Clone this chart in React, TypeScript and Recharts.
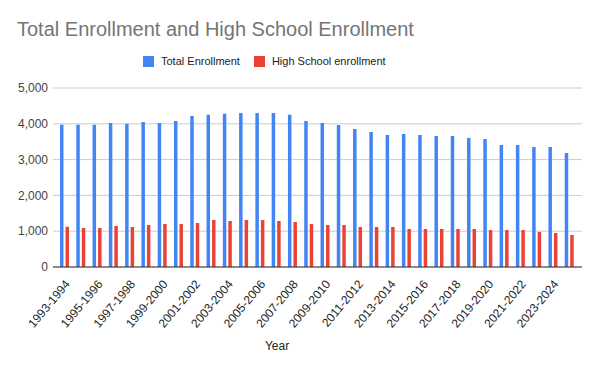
import React from 'react';
import { BarChart, Bar, XAxis, YAxis, CartesianGrid } from 'recharts';

const years = [
  '1993-1994','1994-1995','1995-1996','1996-1997','1997-1998','1998-1999','1999-2000','2000-2001',
  '2001-2002','2002-2003','2003-2004','2004-2005','2005-2006','2006-2007','2007-2008','2008-2009',
  '2009-2010','2010-2011','2011-2012','2012-2013','2013-2014','2014-2015','2015-2016','2016-2017',
  '2017-2018','2018-2019','2019-2020','2020-2021','2021-2022','2022-2023','2023-2024','2024-2025',
];
const totalEnrollment = [
  3975, 3975, 3975, 4020, 4000, 4050, 4020, 4078, 4218, 4255, 4283, 4302, 4300, 4300, 4255, 4078,
  4022, 3966, 3855, 3771, 3687, 3715, 3687, 3659, 3659, 3603, 3575, 3408, 3408, 3352, 3352, 3184,
];
const highSchoolEnrollment = [
  1125, 1089, 1089, 1145, 1117, 1173, 1201, 1201, 1229, 1313, 1285, 1313, 1313, 1285, 1257, 1201,
  1173, 1173, 1117, 1117, 1117, 1061, 1061, 1061, 1061, 1061, 1034, 1034, 1034, 978, 950, 894,
];
const yTicks = [0, 1000, 2000, 3000, 4000, 5000];
const seriesNames = ['Total Enrollment', 'High School enrollment'];
const seriesColors = ['#4285F4', '#EA4335'];

const data = years.map((y, i) => ({ year: y, total: totalEnrollment[i], hs: highSchoolEnrollment[i] }));

const font = 'Arial, "Liberation Sans", sans-serif';

export default function App() {
  return (
    <div style={{ position: 'absolute', left: 0, top: 0, width: 600, height: 371, background: '#fff', fontFamily: font }}>
      <div style={{ position: 'absolute', left: 17, top: 18, fontSize: 20, color: '#757575', whiteSpace: 'nowrap' }}>
        Total Enrollment and High School Enrollment
      </div>
      <div style={{ position: 'absolute', left: 143, top: 55, display: 'flex', alignItems: 'center', fontSize: 11, color: '#222222', whiteSpace: 'nowrap' }}>
        <span style={{ display: 'inline-block', width: 11, height: 11, background: seriesColors[0], marginRight: 7 }} />
        <span style={{ marginRight: 14 }}>{seriesNames[0]}</span>
        <span style={{ display: 'inline-block', width: 11, height: 11, background: seriesColors[1], marginRight: 7 }} />
        <span>{seriesNames[1]}</span>
      </div>
      <BarChart
        width={600}
        height={371}
        data={data}
        margin={{ top: 88, right: 18, bottom: 0, left: 0 }}
        barGap={2}
        barCategoryGap={0}
        style={{ position: 'absolute', left: 0, top: 0 }}
      >
        <CartesianGrid vertical={false} stroke="#cccccc" />
        <XAxis
          dataKey="year"
          height={104}
          interval={1}
          tickLine={false}
          axisLine={{ stroke: '#333333' }}
          padding={{ left: 3, right: 5 }}
          angle={-50}
          textAnchor="end"
          tickMargin={6}
          tick={{ fontSize: 12, fill: '#222222', fontFamily: font }}
        />
        <YAxis
          width={53}
          ticks={yTicks}
          domain={[0, 5000]}
          tickLine={false}
          axisLine={false}
          tickSize={0}
          tickMargin={5}
          tickFormatter={(v: number) => v.toLocaleString('en-US')}
          tick={{ fontSize: 12, fill: '#444444', fontFamily: font }}
        />
        <Bar dataKey="total" name={seriesNames[0]} fill={seriesColors[0]} barSize={3.5} isAnimationActive={false} />
        <Bar dataKey="hs" name={seriesNames[1]} fill={seriesColors[1]} barSize={3.5} isAnimationActive={false} />
      </BarChart>
      <div style={{ position: 'absolute', left: 0, width: 554, top: 339, textAlign: 'center', fontSize: 12, color: '#222222' }}>
        Year
      </div>
    </div>
  );
}
